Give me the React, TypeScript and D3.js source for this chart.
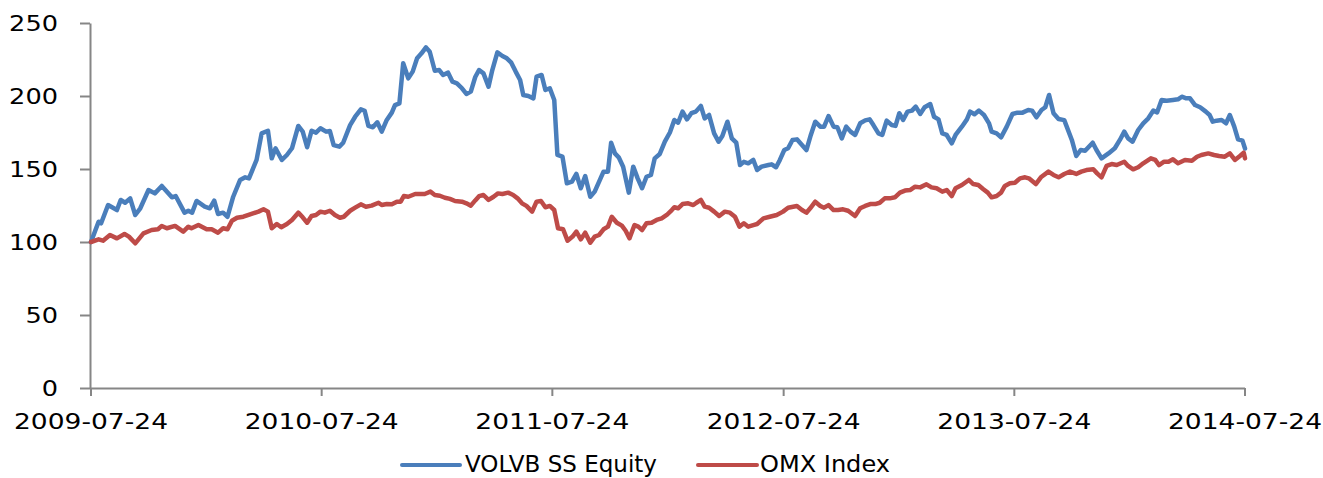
import React, { useEffect, useRef } from 'react';
import * as d3 from 'd3';

// Weekly index levels (rebased to 100 on 2009-07-24).
// x values are days since the start date.
const START = new Date(2009, 6, 24);
const END = new Date(2014, 6, 24);

const volvoDays = [
  0, 12, 16, 27, 41, 47, 54, 62, 70, 78,
  91, 101, 112, 128, 134, 148, 154, 160, 167, 180,
  188, 195, 201, 209, 216, 225, 236, 244, 250, 262,
  270, 280, 286, 292, 302, 310, 318, 328, 335, 342,
  349, 356, 363, 372, 378, 384, 393, 399, 410, 418,
  427, 433, 439, 446, 453, 460, 468, 476, 481, 488,
  494, 502, 509, 516, 523, 530, 536, 544, 551, 557,
  565, 572, 579, 587, 594, 601, 608, 614, 621, 629,
  635, 643, 651, 658, 665, 672, 679, 684, 692, 700,
  705, 713, 719, 726, 733, 738, 746, 753, 761, 768,
  775, 782, 790, 797, 804, 811, 818, 823, 829, 835,
  842, 851, 858, 865, 872, 879, 886, 892, 900, 908,
  916, 923, 929, 936, 943, 950, 957, 965, 971, 978,
  986, 993, 999, 1007, 1014, 1021, 1027, 1033, 1040, 1048,
  1054, 1061, 1072, 1077, 1084, 1090, 1097, 1103, 1110, 1117,
  1125, 1132, 1139, 1146, 1154, 1160, 1167, 1175, 1181, 1188,
  1195, 1202, 1209, 1217, 1225, 1232, 1238, 1246, 1252, 1259,
  1267, 1273, 1279, 1285, 1292, 1299, 1305, 1312, 1319, 1328,
  1334, 1341, 1347, 1354, 1362, 1368, 1378, 1386, 1391, 1398,
  1405, 1413, 1421, 1425, 1433, 1440, 1449, 1458, 1466, 1474,
  1483, 1489, 1496, 1504, 1510, 1516, 1523, 1531, 1540, 1552,
  1559, 1566, 1573, 1585, 1591, 1599, 1610, 1620, 1628, 1635,
  1641, 1648, 1657, 1665, 1673, 1681, 1687, 1694, 1702, 1712,
  1720, 1726, 1733, 1739, 1747, 1755, 1764, 1770, 1775, 1781,
  1789, 1796, 1802, 1809, 1815, 1822, 1826
];
const volvoValues = [
  100, 113.9, 112.8, 125.3, 121.9, 128.8, 126.9, 129.9, 118.5, 123.1,
  135.6, 133.3, 138.4, 130.6, 131.5, 120.1, 121.4, 120.1, 128.1, 124.2,
  123.1, 128.3, 119.2, 120.1, 117.3, 131, 142.5, 144.3, 143.6, 156.2,
  174.4, 176.2, 157.3, 164.2, 156.2, 159.6, 164.2, 179.5, 175.6, 164.9,
  176.2, 174.9, 177.9, 175.6, 176, 166.4, 165.3, 168, 180.1, 185.8,
  190.9, 189.9, 179.5, 178.6, 182, 175.6, 183.6, 188.6, 193.8, 195,
  222.4, 212.1, 216.7, 225.8, 229.2, 233.3, 230.3, 217.3, 217.8, 214.4,
  216, 209.8, 208.7, 205.3, 201.4, 203, 213, 217.8, 215.5, 206.4,
  217.8, 229.9, 227.4, 225.8, 222.8, 216.7, 211, 200.7, 200, 198.4,
  213.2, 214.4, 204.1, 205.3, 197.3, 159.6, 158.4, 140.2, 141.3, 146.6,
  136.8, 145.2, 131, 134.5, 141.3, 148.2, 148.2, 168, 160.7, 158,
  151.6, 133.8, 151.6, 143.6, 136.8, 144.7, 145.9, 157.3, 160.3, 168.7,
  175, 183.6, 181.7, 189.3, 184, 188.2, 189.3, 193.2, 184.7, 187,
  174.4, 168.7, 172.6, 182.4, 171, 168, 152.7, 154.9, 153.9, 156.2,
  149.3, 151.6, 152.7, 153.2, 151.2, 156.2, 163, 164.2, 169.9, 170.3,
  166.4, 163, 173.3, 182.4, 179, 179, 186.3, 179, 178.6, 171,
  179, 175.6, 173.3, 181.3, 183.3, 184, 180.1, 174.4, 173.3, 183.1,
  180.1, 179.5, 188.2, 183.6, 189.3, 190, 192.7, 187.7, 192.3, 194.5,
  185.8, 184, 174.4, 173.3, 167.6, 173.3, 179, 184, 189.3, 187.5,
  190, 187, 181.3, 175.6, 174.4, 171.7, 179, 187.7, 188.6, 188.6,
  190.4, 190, 185.4, 190.4, 192.3, 200.7, 188.2, 184.2, 183.5, 169.9,
  158.9, 163, 162.5, 168, 163, 157.3, 160.7, 164.2, 169.9, 175.6,
  171, 168.7, 176.7, 181.3, 184.7, 190, 188.8, 197.3, 196.8, 197.3,
  197.7, 199.5, 198.4, 198.4, 193.8, 192.3, 189.3, 187, 182.4, 183.1,
  183.6, 181.3, 187, 179, 170.3, 169.4, 164
];

const omxDays = [
  0, 12, 19, 30, 41, 53, 60, 70, 83, 96,
  106, 112, 120, 133, 146, 154, 159, 170, 183, 191,
  201, 209, 216, 223, 231, 241, 254, 265, 273, 280,
  286, 294, 301, 310, 318, 328, 335, 342, 349, 356,
  363, 370, 378, 386, 394, 400, 410, 418, 427, 435,
  444, 455, 460, 468, 476, 484, 490, 495, 502, 513,
  521, 528, 537, 544, 552, 560, 568, 576, 587, 594,
  601, 608, 614, 621, 629, 637, 644, 651, 660, 668,
  675, 682, 689, 698, 705, 712, 719, 726, 733, 739,
  747, 754, 762, 768, 775, 782, 790, 797, 804, 811,
  818, 824, 832, 840, 846, 852, 860, 866, 872, 879,
  887, 895, 903, 911, 919, 923, 929, 936, 945, 953,
  958, 965, 971, 978, 986, 994, 1003, 1011, 1019, 1026,
  1033, 1040, 1048, 1054, 1064, 1074, 1085, 1095, 1103, 1117,
  1125, 1132, 1138, 1146, 1154, 1160, 1167, 1175, 1182, 1190,
  1198, 1209, 1217, 1225, 1233, 1241, 1248, 1256, 1264, 1272,
  1280, 1288, 1296, 1304, 1312, 1322, 1330, 1338, 1347, 1354,
  1362, 1368, 1378, 1389, 1396, 1404, 1412, 1419, 1425, 1433,
  1440, 1446, 1454, 1462, 1470, 1478, 1484, 1495, 1503, 1515,
  1523, 1531, 1540, 1549, 1559, 1567, 1575, 1586, 1592, 1599,
  1607, 1615, 1623, 1635, 1641, 1649, 1657, 1665, 1677, 1684,
  1690, 1698, 1705, 1712, 1720, 1731, 1742, 1750, 1757, 1768,
  1777, 1785, 1794, 1802, 1810, 1818, 1824, 1826
];
const omxValues = [
  100, 101.8, 100.9, 104.8, 102.5, 105.5, 103.7, 99.1, 105.9, 108.2,
  108.7, 111, 109.4, 111, 107.1, 110.5, 109.4, 111.6, 108.7, 108.7,
  106.4, 109.4, 108.7, 114.6, 116.6, 117.3, 119.2, 120.8, 122.4, 120.8,
  109.4, 112.3, 110.1, 112.3, 115.1, 120.1, 116.9, 113.2, 117.8, 118.5,
  120.8, 120.1, 121.4, 118.5, 116.6, 117.3, 121.4, 123.5, 125.8, 124.2,
  124.9, 126.9, 125.3, 126, 125.8, 127.6, 127.6, 131.5, 131, 132.9,
  132.9, 132.9, 134.5, 132.2, 131.7, 130.3, 129.5, 128.1, 127.6, 126.5,
  124.9, 128.5, 131.4, 132.2, 128.8, 131, 133.3, 132.9, 133.8, 132.2,
  129.9, 126.5, 124.7, 120.8, 127.6, 128.1, 123.8, 124.7, 121.9, 109.4,
  108.7, 100.9, 103.7, 107.1, 101.8, 106.4, 99.5, 103.7, 104.8, 108.7,
  110.5, 117.3, 113.2, 111.2, 107.7, 102.5, 111.6, 110.5, 108.2, 112.8,
  113.2, 115.1, 116.2, 118.5, 121.9, 123.8, 123.1, 126, 126.5, 125.3,
  126.9, 128.8, 124.2, 123.5, 120.8, 117.8, 120.8, 120.1, 117.3, 110.5,
  112.8, 110.5, 111.6, 112.3, 116.2, 117.3, 118.5, 120.8, 123.5, 124.7,
  121.9, 120.1, 123.1, 127.6, 124.7, 123.5, 125.3, 121.9, 121.9, 122.4,
  121.4, 117.8, 123.1, 124.7, 126, 126, 126.9, 129.9, 129.9, 130.6,
  133.8, 135.2, 135.6, 137.9, 137.4, 139.5, 137.4, 136.8, 134.5, 135.6,
  131.5, 136.8, 139, 142.5, 139.7, 139, 136.1, 133.8, 130.6, 131.5,
  133.8, 138.4, 140.2, 140.6, 143.6, 144.3, 143.6, 139.7, 144.3, 148.2,
  145.9, 144.3, 146.6, 148.2, 146.6, 148.2, 149.3, 149.8, 147, 144.3,
  152.1, 153.4, 152.7, 155, 152.1, 149.8, 151.2, 153.9, 157.3, 156.2,
  152.7, 155, 155, 156.6, 153.9, 156.2, 155.7, 158.4, 159.6, 160.7,
  159.6, 158.9, 158.4, 160.7, 156.2, 158.9, 161.2, 157.3
];

const yTicks = [0, 50, 100, 150, 200, 250];
const xTickLabels = ['2009-07-24', '2010-07-24', '2011-07-24', '2012-07-24', '2013-07-24', '2014-07-24'];
const seriesNames = ['VOLVB SS Equity', 'OMX Index'];
const seriesColors = ['#4A7EBB', '#BE4B48'];

const FONT = '"DejaVu Sans", Verdana, sans-serif';
const AXIS_COLOR = '#868686';

const App = () => {
  const svgRef = useRef(null);

  useEffect(() => {
    document.body.style.margin = '0';
    const svg = d3.select(svgRef.current);
    svg.selectAll('*').remove();

    const width = 1323;
    const height = 478;
    const margin = { top: 23, left: 91, right: 78, bottom: 90 };

    const x = d3.scaleTime()
      .domain([START, END])
      .range([margin.left, width - margin.right]);
    const y = d3.scaleLinear()
      .domain([0, 250])
      .range([height - margin.bottom, margin.top]);

    // y axis
    const yAxis = svg.append('g')
      .attr('transform', `translate(${margin.left - 1}, 0)`)
      .call(d3.axisLeft(y).tickValues(yTicks).tickSizeInner(10).tickSizeOuter(0));
    yAxis.selectAll('path, line')
      .attr('stroke', AXIS_COLOR)
      .attr('stroke-width', 2);
    yAxis.selectAll('text')
      .attr('x', -32)
      .attr('dy', '0.36em')
      .attr('fill', '#000')
      .attr('textLength', d => String(d).length * 16.3)
      .attr('lengthAdjust', 'spacingAndGlyphs')
      .style('font-family', FONT)
      .style('font-size', '22px');

    // x axis
    const parse = d3.timeParse('%Y-%m-%d');
    const xAxis = svg.append('g')
      .attr('transform', `translate(-0.5, ${y(0)})`)
      .call(d3.axisBottom(x)
        .tickValues(xTickLabels.map(parse))
        .tickFormat(d3.timeFormat('%Y-%m-%d'))
        .tickSizeInner(8)
        .tickSizeOuter(0));
    xAxis.selectAll('path, line')
      .attr('stroke', AXIS_COLOR)
      .attr('stroke-width', 2);
    xAxis.selectAll('text')
      .attr('y', 41)
      .attr('dy', 0)
      .attr('fill', '#000')
      .attr('textLength', 154)
      .attr('lengthAdjust', 'spacingAndGlyphs')
      .style('font-family', FONT)
      .style('font-size', '22px');

    // lines
    const line = d3.line()
      .x(d => x(d3.timeDay.offset(START, d[0])))
      .y(d => y(d[1]));

    const series = [
      volvoDays.map((d, i) => [d, volvoValues[i]]),
      omxDays.map((d, i) => [d, omxValues[i]])
    ];

    series.forEach((data, i) => {
      svg.append('path')
        .datum(data)
        .attr('d', line)
        .attr('fill', 'none')
        .attr('stroke', seriesColors[i])
        .attr('stroke-width', 4.5)
        .attr('stroke-linejoin', 'round')
        .attr('stroke-linecap', 'round');
    });

    // legend
    const legendItems = [
      { x1: 402, x2: 460, tx: 465, tw: 192 },
      { x1: 698, x2: 757, tx: 760, tw: 130 }
    ];
    legendItems.forEach((item, i) => {
      svg.append('line')
        .attr('x1', item.x1)
        .attr('x2', item.x2)
        .attr('y1', 465)
        .attr('y2', 465)
        .attr('stroke', seriesColors[i])
        .attr('stroke-width', 4)
        .attr('stroke-linecap', 'round');
      svg.append('text')
        .attr('x', item.tx)
        .attr('y', 472)
        .attr('textLength', item.tw)
        .attr('lengthAdjust', 'spacingAndGlyphs')
        .style('font-family', FONT)
        .style('font-size', '23px')
        .style('fill', '#000')
        .text(seriesNames[i]);
    });
  }, []);

  return (
    <svg ref={svgRef} width={1323} height={478} style={{ display: 'block', background: '#fff' }} />
  );
};

export default App;
